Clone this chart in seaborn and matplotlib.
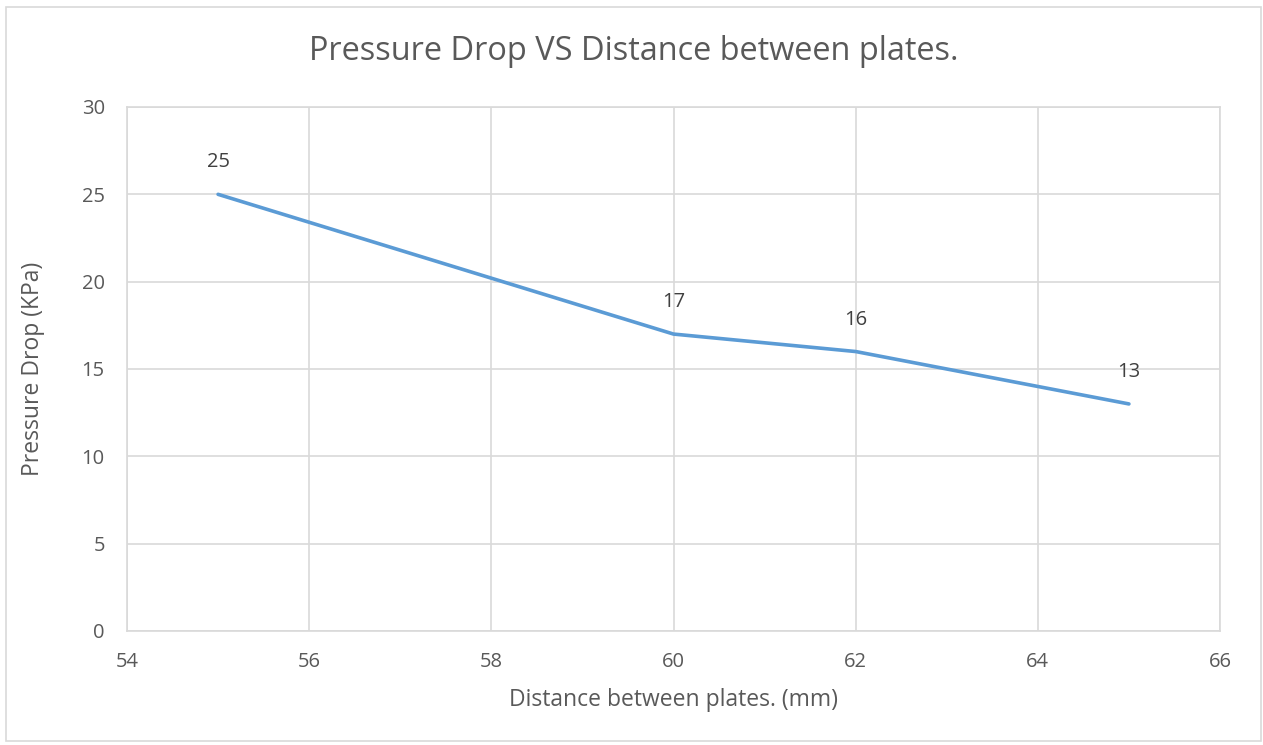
import matplotlib
matplotlib.use("Agg")
import matplotlib.pyplot as plt
import seaborn as sns
import pandas as pd
from matplotlib.patches import Rectangle

distance_mm = [55, 60, 62, 65]
pressure_drop_kpa = [25, 17, 16, 13]
x_ticks = [54, 56, 58, 60, 62, 64, 66]
y_ticks = [0, 5, 10, 15, 20, 25, 30]

df = pd.DataFrame({"Distance": distance_mm, "Pressure": pressure_drop_kpa})

sns.set_theme(style="white")
plt.rcParams["font.family"] = ["Open Sans", "DejaVu Sans"]

fig = plt.figure(figsize=(12.63, 7.45), dpi=100)
ax = fig.add_axes([127/1263, 1 - 631/745, (1220-127)/1263, (631-107)/745])

grid_c = "#d9d9d9"
text_c = "#595959"

sns.lineplot(data=df, x="Distance", y="Pressure", ax=ax, color="#5b9bd5",
             linewidth=2.6, solid_capstyle="round", zorder=3)

for xv, yv in zip(distance_mm, pressure_drop_kpa):
    ax.annotate(f"{yv}", (xv, yv), xytext=(0, 23), textcoords="offset points",
                ha="center", va="center", fontsize=14.5, color="#404040")

ax.set_xlim(54, 66)
ax.set_ylim(0, 30)
ax.set_xticks(x_ticks)
ax.set_yticks(y_ticks)
ax.grid(True, color=grid_c, linewidth=1.2)
ax.set_axisbelow(True)
for s in ax.spines.values():
    s.set_color(grid_c)
    s.set_linewidth(1.2)
ax.tick_params(axis="x", length=0, labelsize=14.5, colors=text_c, pad=15)
ax.tick_params(axis="y", length=0, labelsize=14.5, colors=text_c, pad=16)

xl = ax.set_xlabel("Distance between plates. (mm)", fontsize=16.5, color=text_c)
xl.set_va("center")
ax.xaxis.set_label_coords(0.5, (631 - 700) / 524)
yl = ax.set_ylabel("Pressure Drop (KPa)", fontsize=16.5, color=text_c)
yl.set_va("center")
ax.yaxis.set_label_coords((33 - 127) / 1093, 0.5)

fig.text(634/1263, 1 - 52/745, "Pressure Drop VS Distance between plates.",
         ha="center", va="center", fontsize=23.4, color=text_c)

fig.patches.append(Rectangle((6/1263, 4/745), 1255/1263, 734/745,
                             transform=fig.transFigure, fill=False,
                             edgecolor=grid_c, linewidth=1.2))

fig.savefig("out.png", dpi=100, facecolor="white")
